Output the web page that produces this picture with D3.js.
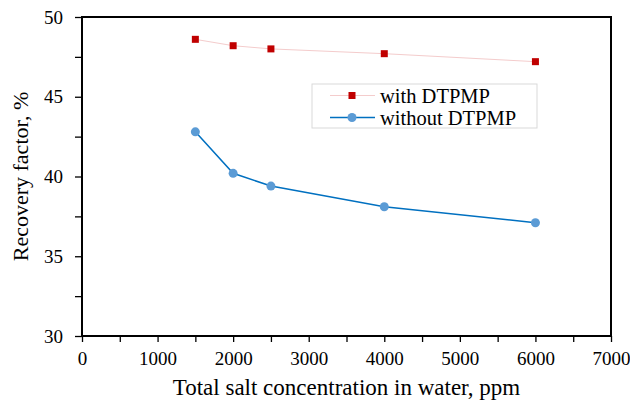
<!DOCTYPE html>
<html>
<head>
<meta charset="utf-8">
<script src="https://cdn.jsdelivr.net/npm/d3@7"></script>
<style>
  body { margin: 0; background: #fff; }
</style>
</head>
<body>
<svg id="chart" width="630" height="404"></svg>
<script>
// Salt concentration (ppm) and recovery factor (%)
const salinity = [1500, 2000, 2500, 4000, 6000];
const withDTPMP = [48.6, 48.2, 48.0, 47.7, 47.2];
const withoutDTPMP = [42.8, 40.2, 39.4, 38.1, 37.1];
const xTicks = [0, 1000, 2000, 3000, 4000, 5000, 6000, 7000];
const yTicks = [30, 35, 40, 45, 50];
const seriesNames = ["with DTPMP", "without DTPMP"];

const FONT = "'Liberation Serif', 'Times New Roman', serif";
const svg = d3.select("#chart");
const m = { left: 82, right: 19, top: 17, bottom: 68 };
const W = 630, H = 404;
const x = d3.scaleLinear().domain([0, 7000]).range([m.left, W - m.right]);
const y = d3.scaleLinear().domain([30, 50]).range([H - m.bottom, m.top]);

// Minor ticks (outside)
const xMinor = d3.range(500, 7000, 1000);
const yMinor = d3.range(32.5, 50, 5);

function styleAxis(g) {
  g.attr("font-family", FONT);
  g.select(".domain").remove();
  g.selectAll("text").attr("font-family", FONT).attr("font-size", 19).attr("fill", "#000");
  g.selectAll("line").attr("stroke-width", 1.3);
}

svg.append("g").attr("transform", `translate(0,${y(30)})`)
  .call(d3.axisBottom(x).tickValues(xTicks).tickSize(6).tickPadding(10).tickFormat(d3.format("d")))
  .call(styleAxis);
svg.append("g").attr("transform", `translate(0,${y(30)})`)
  .call(d3.axisBottom(x).tickValues(xMinor).tickSize(6).tickFormat(""))
  .call(styleAxis);

svg.append("g").attr("transform", `translate(${x(0)},0)`)
  .call(d3.axisLeft(y).tickValues(yTicks).tickSize(7).tickPadding(12))
  .call(styleAxis);
svg.append("g").attr("transform", `translate(${x(0)},0)`)
  .call(d3.axisLeft(y).tickValues(yMinor).tickSize(7).tickFormat(""))
  .call(styleAxis);

// Plot frame
svg.append("rect")
  .attr("x", x(0)).attr("y", y(50))
  .attr("width", x(7000) - x(0)).attr("height", y(30) - y(50))
  .attr("fill", "none").attr("stroke", "#000").attr("stroke-width", 2);

const line = d3.line();

// Without DTPMP
const ptsWithout = salinity.map((s, i) => [x(s), y(withoutDTPMP[i])]);
svg.append("path").attr("d", line(ptsWithout))
  .attr("fill", "none").attr("stroke", "#0070c0").attr("stroke-width", 1.5);
svg.selectAll("circle.wo").data(ptsWithout).join("circle").attr("class", "wo")
  .attr("cx", d => d[0]).attr("cy", d => d[1]).attr("r", 4.5).attr("fill", "#5b9bd5");

// With DTPMP
const ptsWith = salinity.map((s, i) => [x(s), y(withDTPMP[i])]);
svg.append("path").attr("d", line(ptsWith))
  .attr("fill", "none").attr("stroke", "#f4cccc").attr("stroke-width", 1);
svg.selectAll("rect.w").data(ptsWith).join("rect").attr("class", "w")
  .attr("x", d => d[0] - 3.5).attr("y", d => d[1] - 3.5)
  .attr("width", 7).attr("height", 7).attr("fill", "#c00000");

// Legend
const lg = svg.append("g");
lg.append("rect").attr("x", 312).attr("y", 84).attr("width", 225).attr("height", 44)
  .attr("fill", "#fff").attr("stroke", "#d9d9d9").attr("stroke-width", 1);
const rows = [
  { name: seriesNames[0], yy: 95.5, stroke: "#f4cccc", sw: 1, mark: "sq" },
  { name: seriesNames[1], yy: 117.5, stroke: "#0070c0", sw: 1.5, mark: "ci" }
];
rows.forEach(r => {
  lg.append("line").attr("x1", 330).attr("x2", 375).attr("y1", r.yy).attr("y2", r.yy)
    .attr("stroke", r.stroke).attr("stroke-width", r.sw);
  if (r.mark === "sq") {
    lg.append("rect").attr("x", 352 - 3.5).attr("y", r.yy - 3.5).attr("width", 7).attr("height", 7).attr("fill", "#c00000");
  } else {
    lg.append("circle").attr("cx", 352).attr("cy", r.yy).attr("r", 4.5).attr("fill", "#5b9bd5");
  }
  lg.append("text").attr("x", 380).attr("y", r.yy).attr("dy", "0.35em")
    .attr("font-family", FONT).attr("font-size", 20.5).text(r.name);
});

// Axis titles
svg.append("text").attr("x", (x(0) + x(7000)) / 2).attr("y", 395)
  .attr("text-anchor", "middle").attr("font-family", FONT).attr("font-size", 23)
  .text("Total salt concentration in water, ppm");
svg.append("text").attr("transform", `translate(28,${(y(30) + y(50)) / 2}) rotate(-90)`)
  .attr("text-anchor", "middle").attr("font-family", FONT).attr("font-size", 22)
  .text("Recovery factor, %");
</script>
</body>
</html>
